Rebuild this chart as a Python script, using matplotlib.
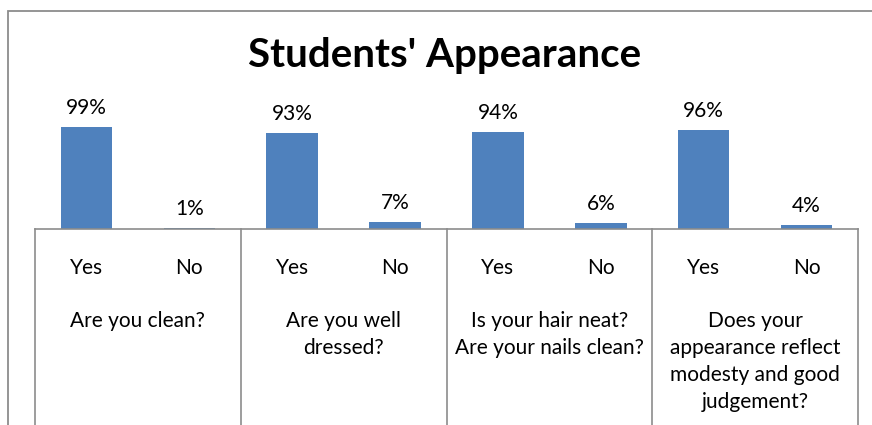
import matplotlib
matplotlib.use("Agg")
import matplotlib.pyplot as plt
from matplotlib.patches import Rectangle
import matplotlib.transforms as mtransforms

# data
answers = ["Yes", "No", "Yes", "No", "Yes", "No", "Yes", "No"]
values = [99, 1, 93, 7, 94, 6, 96, 4]
questions = ["Are you clean?",
             "Are you well\ndressed?",
             "Is your hair neat?\nAre your nails clean?",
             "Does your\nappearance reflect\nmodesty and good\njudgement?"]

W, H = 872, 425
plt.rcParams['font.family'] = ['Lato', 'DejaVu Sans']
fig = plt.figure(figsize=(W / 100, H / 100), dpi=100)

# outer chart frame (cut off on the right and bottom)
fig.patches.append(Rectangle((8 / W, -0.1), 1.2, 1 - 11 / H + 0.1, transform=fig.transFigure,
                             fill=False, edgecolor="#8c8c8c", linewidth=1.3))

# plot area in pixels
left, right, base = 35, 858, 229
px_per_pct = 1.03
top = base - 120 * px_per_pct
ax = fig.add_axes([left / W, 1 - base / H, (right - left) / W, (base - top) / H])

x = list(range(len(values)))
ax.bar(x, values, width=0.5, color="#4f81bd")
ax.set_xlim(-0.5, len(values) - 0.5)
ax.set_ylim(0, 120)

for xi, v in zip(x, values):
    ax.text(xi, v + 9, f"{v}%", ha="center", va="bottom", fontsize=15)

for s in ["top", "left", "right"]:
    ax.spines[s].set_visible(False)
ax.spines["bottom"].set_color("#8c8c8c")
ax.spines["bottom"].set_linewidth(1.2)
ax.set_xticks([])
ax.set_yticks([])

trans = mtransforms.blended_transform_factory(ax.transData, ax.transAxes)
h = (base - top)

# first level labels
for xi, a in zip(x, answers):
    ax.text(xi, -(268 - base) / h, a, transform=trans, ha="center", va="center", fontsize=15)

# second level labels and separators
for g, q in enumerate(questions):
    ax.text(2 * g + 0.5, -(311 - base) / h, q, transform=trans, ha="center", va="top",
            fontsize=15, linespacing=1.44)
for g in range(len(questions) + 1):
    ax.plot([2 * g - 0.5, 2 * g - 0.5], [0, -3], transform=trans, color="#8c8c8c",
            linewidth=1.2, clip_on=False)

fig.text((247 + 643) / 2 / W, 1 - 56 / H, "Students' Appearance", ha="center", va="center",
         fontsize=29, fontweight="bold")

fig.savefig("out.png", dpi=100)
